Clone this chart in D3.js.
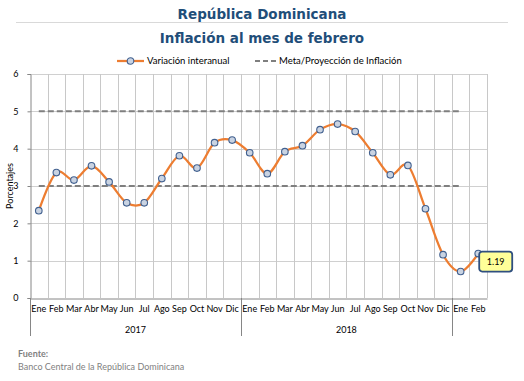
<!DOCTYPE html>
<html>
<head>
    <meta charset="utf-8">
    <title>Inflación al mes de febrero</title>
    <script src="https://d3js.org/d3.v7.min.js"></script>
    <style>
        body { margin: 0; background: #fff; }
        text { font-family: Lato, "Liberation Sans", sans-serif; }
    </style>
</head>
<body>
    <div id="wrapper"></div>

    <script>
        // data
        const months = ["Ene", "Feb", "Mar", "Abr", "May", "Jun", "Jul", "Ago", "Sep", "Oct", "Nov", "Dic",
                        "Ene", "Feb", "Mar", "Abr", "May", "Jun", "Jul", "Ago", "Sep", "Oct", "Nov", "Dic",
                        "Ene", "Feb"];
        const years = ["2017", "2018"];
        const yearStart = [0, 12];   // first month index of each year group
        const inflation = [2.34, 3.36, 3.16, 3.54, 3.11, 2.55, 2.55, 3.20, 3.81, 3.48, 4.16, 4.23,
                           3.89, 3.33, 3.92, 4.08, 4.51, 4.66, 4.46, 3.89, 3.30, 3.55, 2.39, 1.16,
                           0.71, 1.19];
        const metaUpper = [5, 5, 5, 5, 5, 5, 5, 5, 5, 5, 5, 5, 5, 5, 5, 5, 5, 5, 5, 5, 5, 5, 5, 5, 5];
        const metaLower = [3, 3, 3, 3, 3, 3, 3, 3, 3, 3, 3, 3, 3, 3, 3, 3, 3, 3, 3, 3, 3, 3, 3, 3, 3];
        const yTicks = [0, 1, 2, 3, 4, 5, 6];

        const dimensions = {
            width: 524,
            height: 381,
            margin: { top: 74, right: 37, bottom: 83, left: 30 }
        };
        dimensions.boundedWidth = dimensions.width - dimensions.margin.left - dimensions.margin.right;
        dimensions.boundedHeight = dimensions.height - dimensions.margin.top - dimensions.margin.bottom;

        const orange = "#ed7d31";
        const navy = "#1f4e79";

        const wrapper = d3.select("#wrapper").append("svg")
            .attr("width", dimensions.width)
            .attr("height", dimensions.height);

        // titles
        wrapper.append("text").attr("x", 262).attr("y", 19).attr("text-anchor", "middle")
            .style("font-family", "'DejaVu Sans', sans-serif").style("font-weight", "bold")
            .style("font-size", "13.5px").style("fill", navy).text("República Dominicana");
        wrapper.append("line").attr("x1", 16).attr("x2", 508).attr("y1", 22.5).attr("y2", 22.5)
            .attr("stroke", "#d9d9d9").attr("stroke-width", 1);
        wrapper.append("text").attr("x", 262).attr("y", 43).attr("text-anchor", "middle")
            .style("font-family", "'DejaVu Sans', sans-serif").style("font-weight", "bold")
            .style("font-size", "13.5px").style("fill", navy).text("Inflación al mes de febrero");

        const bounds = wrapper.append("g")
            .attr("transform", `translate(${dimensions.margin.left}, ${dimensions.margin.top})`);

        const xScale = d3.scaleBand().domain(d3.range(months.length)).range([0, dimensions.boundedWidth]);
        const xCenter = i => xScale(i) + xScale.bandwidth() / 2;
        const yScale = d3.scaleLinear().domain([0, 6]).range([dimensions.boundedHeight, 0]);

        // gridlines
        bounds.append("g").selectAll("line").data(yTicks.slice(1)).join("line")
            .attr("x1", 0).attr("x2", dimensions.boundedWidth)
            .attr("y1", d => Math.round(yScale(d)) + 0.5).attr("y2", d => Math.round(yScale(d)) + 0.5)
            .attr("stroke", "#d0d0d0");
        bounds.append("g").selectAll("line").data(d3.range(1, months.length + 1)).join("line")
            .attr("x1", i => Math.round(i * xScale.step()) + 0.5).attr("x2", i => Math.round(i * xScale.step()) + 0.5)
            .attr("y1", 0).attr("y2", dimensions.boundedHeight)
            .attr("stroke", "#c8c8c8");

        // y axis
        const yAxisGenerator = d3.axisLeft(yScale).tickValues(yTicks).tickFormat(d3.format("d"))
            .tickSize(3).tickPadding(9);
        const yAxis = bounds.append("g").attr("transform", "translate(0.5,0)").call(yAxisGenerator);
        yAxis.select(".domain").attr("stroke", "#868686");
        yAxis.selectAll(".tick line").attr("stroke", "#868686");
        yAxis.selectAll("text").style("font-size", "9px").style("fill", "#000");

        // x axis: month labels
        const xAxisGenerator = d3.axisBottom(xScale).tickSize(0).tickPadding(7).tickFormat(i => months[i]);
        const xAxis = bounds.append("g").attr("transform", `translate(0, ${dimensions.boundedHeight + 0.5})`).call(xAxisGenerator);
        xAxis.select(".domain").attr("stroke", "#868686");
        xAxis.selectAll("text").style("font-size", "9px").style("fill", "#000");

        // year separators
        bounds.append("g").selectAll("line").data([0, 12, 24]).join("line")
            .attr("x1", i => Math.round(i * xScale.step()) + 0.5).attr("x2", i => Math.round(i * xScale.step()) + 0.5)
            .attr("y1", dimensions.boundedHeight).attr("y2", dimensions.boundedHeight + 38)
            .attr("stroke", "#868686");
        bounds.append("g").selectAll("text").data(years).join("text")
            .attr("x", (d, i) => (yearStart[i] + 6) * xScale.step())
            .attr("y", dimensions.boundedHeight + 35)
            .attr("text-anchor", "middle")
            .style("font-size", "9px")
            .text(d => d);

        // y label
        bounds.append("text")
            .attr("transform", `translate(-17, ${dimensions.boundedHeight / 2}) rotate(-90)`)
            .attr("text-anchor", "middle")
            .style("font-size", "9px")
            .text("Porcentajes");

        // meta lines
        const metaLine = d3.line().x((d, i) => xCenter(i)).y(d => yScale(d));
        [metaUpper, metaLower].forEach(series => {
            bounds.append("path").attr("d", metaLine(series))
                .attr("fill", "none").attr("stroke", "#7f7f7f")
                .attr("stroke-width", 2).attr("stroke-dasharray", "6 3");
        });

        // inflation line
        const lineGenerator = d3.line().x((d, i) => xCenter(i)).y(d => yScale(d))
            .curve(d3.curveCardinal.tension(0));
        bounds.append("path").attr("d", lineGenerator(inflation))
            .attr("fill", "none").attr("stroke", orange).attr("stroke-width", 2.25);

        bounds.append("g").selectAll("circle").data(inflation).join("circle")
            .attr("cx", (d, i) => xCenter(i)).attr("cy", d => yScale(d)).attr("r", 3.3)
            .attr("fill", "#c9d3e2").attr("stroke", "#41608f").attr("stroke-width", 1.1);

        // label for last value
        const last = inflation.length - 1;
        const labelG = bounds.append("g")
            .attr("transform", `translate(${xCenter(last) + 1}, ${yScale(inflation[last]) - 2})`);
        labelG.append("rect").attr("width", 33).attr("height", 20).attr("rx", 3)
            .attr("fill", "#ffff99").attr("stroke", "#2f4f7f").attr("stroke-width", 1.8);
        labelG.append("text").attr("x", 16.5).attr("y", 13.5).attr("text-anchor", "middle")
            .style("font-size", "9px").text(inflation[last].toFixed(2));

        // legend
        const legend = wrapper.append("g").attr("transform", "translate(0, 61)");
        legend.append("line").attr("x1", 117).attr("x2", 144).attr("y1", 0).attr("y2", 0)
            .attr("stroke", orange).attr("stroke-width", 2.25);
        legend.append("circle").attr("cx", 130.5).attr("cy", 0).attr("r", 3.3)
            .attr("fill", "#c9d3e2").attr("stroke", "#41608f").attr("stroke-width", 1.1);
        legend.append("text").attr("x", 147).attr("y", 3).style("font-size", "9.5px").text("Variación interanual");
        legend.append("line").attr("x1", 255).attr("x2", 277).attr("y1", 0).attr("y2", 0)
            .attr("stroke", "#7f7f7f").attr("stroke-width", 2).attr("stroke-dasharray", "5 3");
        legend.append("text").attr("x", 279).attr("y", 3).style("font-size", "9.5px").text("Meta/Proyección de Inflación");

        // source
        wrapper.append("text").attr("x", 18).attr("y", 357)
            .style("font-size", "9px").style("font-weight", "bold").style("fill", "#7f7f7f").text("Fuente:");
        wrapper.append("text").attr("x", 18).attr("y", 370)
            .style("font-size", "9px").style("fill", "#7f7f7f").text("Banco Central de la República Dominicana");
    </script>
</body>
</html>
